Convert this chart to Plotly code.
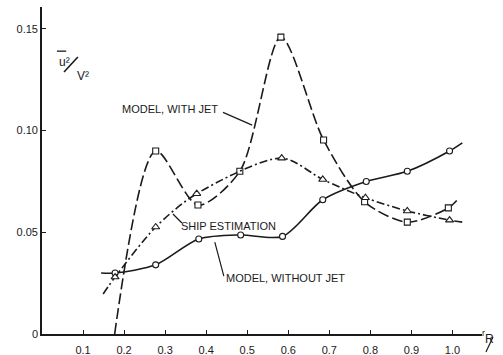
import plotly.graph_objects as go

# Radial stations r/R and turbulence intensity u'^2/V^2 for each curve.
# The first and last entries of each list are the ends of the faired line (no symbol).
r_nojet = [0.144, 0.178, 0.277, 0.382, 0.484, 0.586, 0.684, 0.790, 0.890, 0.993, 1.024]
u_nojet = [0.030, 0.030, 0.034, 0.0467, 0.0487, 0.048, 0.066, 0.075, 0.080, 0.090, 0.094]

r_jet = [0.177, 0.277, 0.380, 0.482, 0.582, 0.686, 0.786, 0.890, 0.990, 1.012]
u_jet = [0.000, 0.090, 0.0634, 0.080, 0.146, 0.0954, 0.065, 0.055, 0.062, 0.066]

r_ship = [0.149, 0.178, 0.277, 0.377, 0.584, 0.684, 0.788, 0.890, 0.993, 1.024]
u_ship = [0.0197, 0.028, 0.0526, 0.069, 0.0865, 0.076, 0.067, 0.0605, 0.056, 0.055]

x_ticks = [0.1, 0.2, 0.3, 0.4, 0.5, 0.6, 0.7, 0.8, 0.9, 1.0]
x_ticktext = ["0.1", "0.2", "0.3", "0.4", "0.5", "0.6", "0.7", "0.8", "0.9", "1.0"]
y_ticks = [0, 0.05, 0.10, 0.15]
y_ticktext = ["0", "0.05", "0.10", "0.15"]

INK = "#1a1a1a"
FONT = "Liberation Sans"

fig = go.Figure()


def add_curve(r, u, dash, symbol, size):
    fig.add_trace(go.Scatter(
        x=r, y=u, mode="lines",
        line=dict(color=INK, width=1.6, dash=dash, shape="spline", smoothing=0.8),
        hoverinfo="skip", showlegend=False,
    ))
    fig.add_trace(go.Scatter(
        x=r[1:-1], y=u[1:-1], mode="markers",
        marker=dict(symbol=symbol, size=size, color="white",
                    line=dict(color=INK, width=1.1)),
        showlegend=False,
    ))


add_curve(r_nojet, u_nojet, "solid", "circle", 6)
add_curve(r_jet, u_jet, "11px,4px", "square", 6)
add_curve(r_ship, u_ship, "8px,3px,2px,3px", "triangle-up", 7)

# curve labels
labels = [
    ("MODEL, WITH JET", 0.312, 0.1106),
    ("SHIP ESTIMATION", 0.455, 0.0531),
    ("MODEL, WITHOUT JET", 0.594, 0.0275),
]
for text, x, y in labels:
    fig.add_annotation(x=x, y=y, text=text, showarrow=False,
                       font=dict(family=FONT, size=11, color=INK))

# leader lines from labels to curves
leaders = [
    (0.441, 0.109, 0.512, 0.1027),
    (0.341, 0.0546, 0.319, 0.0590),
    (0.443, 0.0285, 0.421, 0.0452),
]
for x0, y0, x1, y1 in leaders:
    fig.add_shape(type="line", x0=x0, y0=y0, x1=x1, y1=y1,
                  line=dict(color=INK, width=1.2))

# axis title u'^2 / V^2
fig.add_annotation(xref="paper", yref="paper", x=0.034, y=0.860, text="u²",
                   showarrow=False, font=dict(family=FONT, size=12, color=INK))
fig.add_annotation(xref="paper", yref="paper", x=0.076, y=0.815, text="V²",
                   showarrow=False, font=dict(family=FONT, size=12, color=INK))
fig.add_shape(type="line", xref="paper", yref="paper",
              x0=0.034, y0=0.865, x1=0.055, y1=0.865, line=dict(color=INK, width=1.3))
fig.add_shape(type="line", xref="paper", yref="paper",
              x0=0.050, y0=0.801, x1=0.0815, y1=0.847, line=dict(color=INK, width=1.6))

# axis title r/R
fig.add_annotation(xref="paper", yref="paper", x=1.011, y=-0.018, text="r",
                   showarrow=False, font=dict(family=FONT, size=9, color=INK))
fig.add_annotation(xref="paper", yref="paper", x=1.031, y=-0.042, text="R",
                   showarrow=False, font=dict(family=FONT, size=12, color=INK))
fig.add_shape(type="line", xref="paper", yref="paper",
              x0=1.009, y0=-0.055, x1=1.025, y1=-0.009, line=dict(color=INK, width=1.2))

fig.update_xaxes(range=[0, 1.072], tickvals=x_ticks, ticktext=x_ticktext,
                 ticks="inside", ticklen=4, tickwidth=1.2, tickcolor=INK,
                 ticklabelstandoff=5, automargin=False,
                 showline=True, linecolor=INK, linewidth=1.6,
                 showgrid=False, zeroline=False,
                 tickfont=dict(family=FONT, size=11, color=INK))
fig.update_yaxes(range=[0, 0.1608], tickvals=y_ticks, ticktext=y_ticktext,
                 ticks="inside", ticklen=4, tickwidth=1.2, tickcolor=INK,
                 automargin=False,
                 showline=True, linecolor=INK, linewidth=1.6,
                 showgrid=False, zeroline=False,
                 tickfont=dict(family=FONT, size=11, color=INK))

fig.update_layout(width=503, height=355,
                  margin=dict(l=42, r=21, t=7, b=21),
                  plot_bgcolor="white", paper_bgcolor="white")

fig.write_html("out.html")
